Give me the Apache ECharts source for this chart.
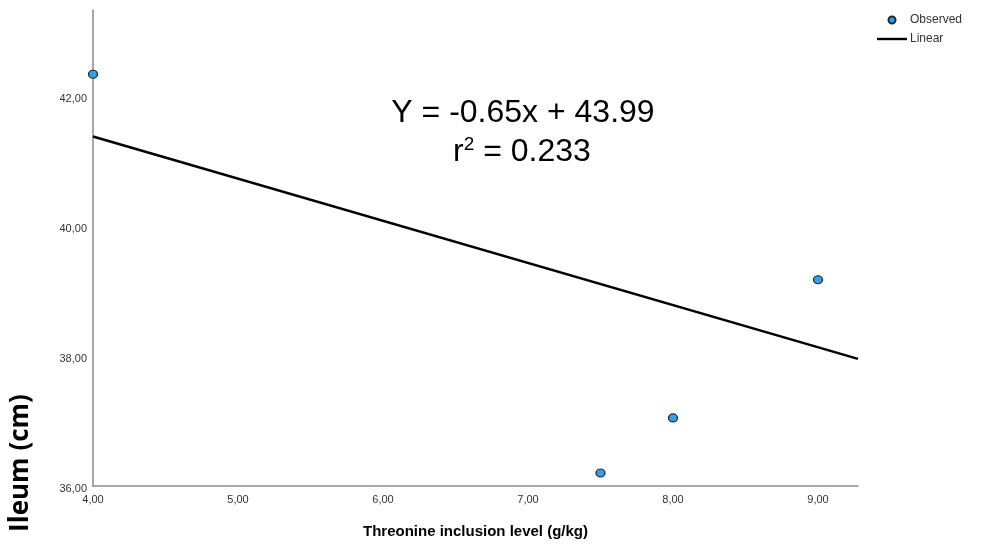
<!DOCTYPE html>
<html><head><meta charset="utf-8">
<script src="https://cdn.jsdelivr.net/npm/echarts@6/dist/echarts.min.js"></script>
<style>html,body{margin:0;padding:0;background:#fff}#c{width:984px;height:544px}</style>
</head><body><div id="c"></div>
<script>
var obsX = [4.0, 7.5, 8.0, 9.0];
var obsY = [42.35, 36.2, 37.05, 39.18];
var fitX = [4.0, 9.276];
var fitY = [41.39, 37.96];
var xTicks = [4, 5, 6, 7, 8, 9];
var yTicks = [36, 38, 40, 42];
var eqText = 'Y = -0.65x + 43.99';
var r2Text = '0.233';

var chart = echarts.init(document.getElementById('c'));
function fmt(v){ return v.toFixed(2).replace('.', ','); }
chart.setOption({
  animation: false,
  textStyle: {fontFamily: 'Liberation Sans, Arial, sans-serif'},
  grid: {left: 93, right: 126, top: 10, bottom: 57},
  xAxis: {
    type: 'value', min: 4, max: 9.276, interval: 1,
    axisLine: {lineStyle: {color: '#8a8a8a', width: 1.5}},
    axisTick: {show: false}, splitLine: {show: false},
    axisLabel: {color: '#333', fontSize: 11, margin: 8,
      formatter: function(v){ return xTicks.indexOf(v) >= 0 ? fmt(v) : ''; },
      showMaxLabel: false},
    name: 'Threonine inclusion level (g/kg)', nameLocation: 'middle', nameGap: 38,
    nameTextStyle: {fontSize: 15, fontWeight: 'bold', color: '#000'}
  },
  yAxis: {
    type: 'value', min: 36, max: 43.34, interval: 2,
    axisLine: {show: true, onZero: false, lineStyle: {color: '#8a8a8a', width: 1.5}},
    axisTick: {show: false}, splitLine: {show: false},
    axisLabel: {color: '#333', fontSize: 11, margin: 6, verticalAlign: 'top', lineHeight: 5,
      formatter: function(v){ return yTicks.indexOf(v) >= 0 ? fmt(v) : ''; },
      showMaxLabel: false}
  },
  legend: {
    orient: 'vertical', left: 877, top: 14, padding: 0, itemGap: 7, itemWidth: 30, itemHeight: 7,
    textStyle: {fontSize: 12, color: '#333', padding: [0,0,0,-2]},
    data: [
      {name: 'Observed', icon: 'circle'},
      {name: 'Linear', icon: 'path://M0,0 L30,0 L30,2.4 L0,2.4 Z'}
    ]
  },
  graphic: [
    {type: 'text', x: 523, y: 97, style: {
      text: eqText, fill: '#000', align: 'center', verticalAlign: 'top',
      font: '32px "Liberation Sans", Arial, sans-serif'}},
    {type: 'text', x: 522, y: 135, style: {
      align: 'center', verticalAlign: 'top',
      rich: {
        b: {fontSize: 32, fontFamily: 'Liberation Sans', color: '#000'},
        s: {fontSize: 19, fontFamily: 'Liberation Sans', color: '#000', verticalAlign: 'top', padding: [0,0,16,0]}
      },
      text: '{b|r}{s|2}{b| = ' + r2Text + '}'}},
    {type: 'text', x: 21, y: 463, rotation: Math.PI/2, style: {
      text: 'Ileum (cm)', fill: '#000', align: 'center', verticalAlign: 'middle',
      font: 'bold 26px "Open Sans", "Liberation Sans", sans-serif'}}
  ],
  series: [
    {name: 'Linear', type: 'line', data: fitX.map(function(x,i){return [x, fitY[i]];}),
     symbol: 'none', lineStyle: {color: '#000', width: 2.5}, itemStyle: {color: '#000'}, z: 2},
    {name: 'Observed', type: 'scatter', data: obsX.map(function(x,i){return [x, obsY[i]];}),
     symbol: 'circle', symbolSize: [9, 8],
     itemStyle: {color: '#3a9ee4', borderColor: '#1a2a3a', borderWidth: 1.2, opacity: 1}, z: 3}
  ]
});
</script></body></html>
